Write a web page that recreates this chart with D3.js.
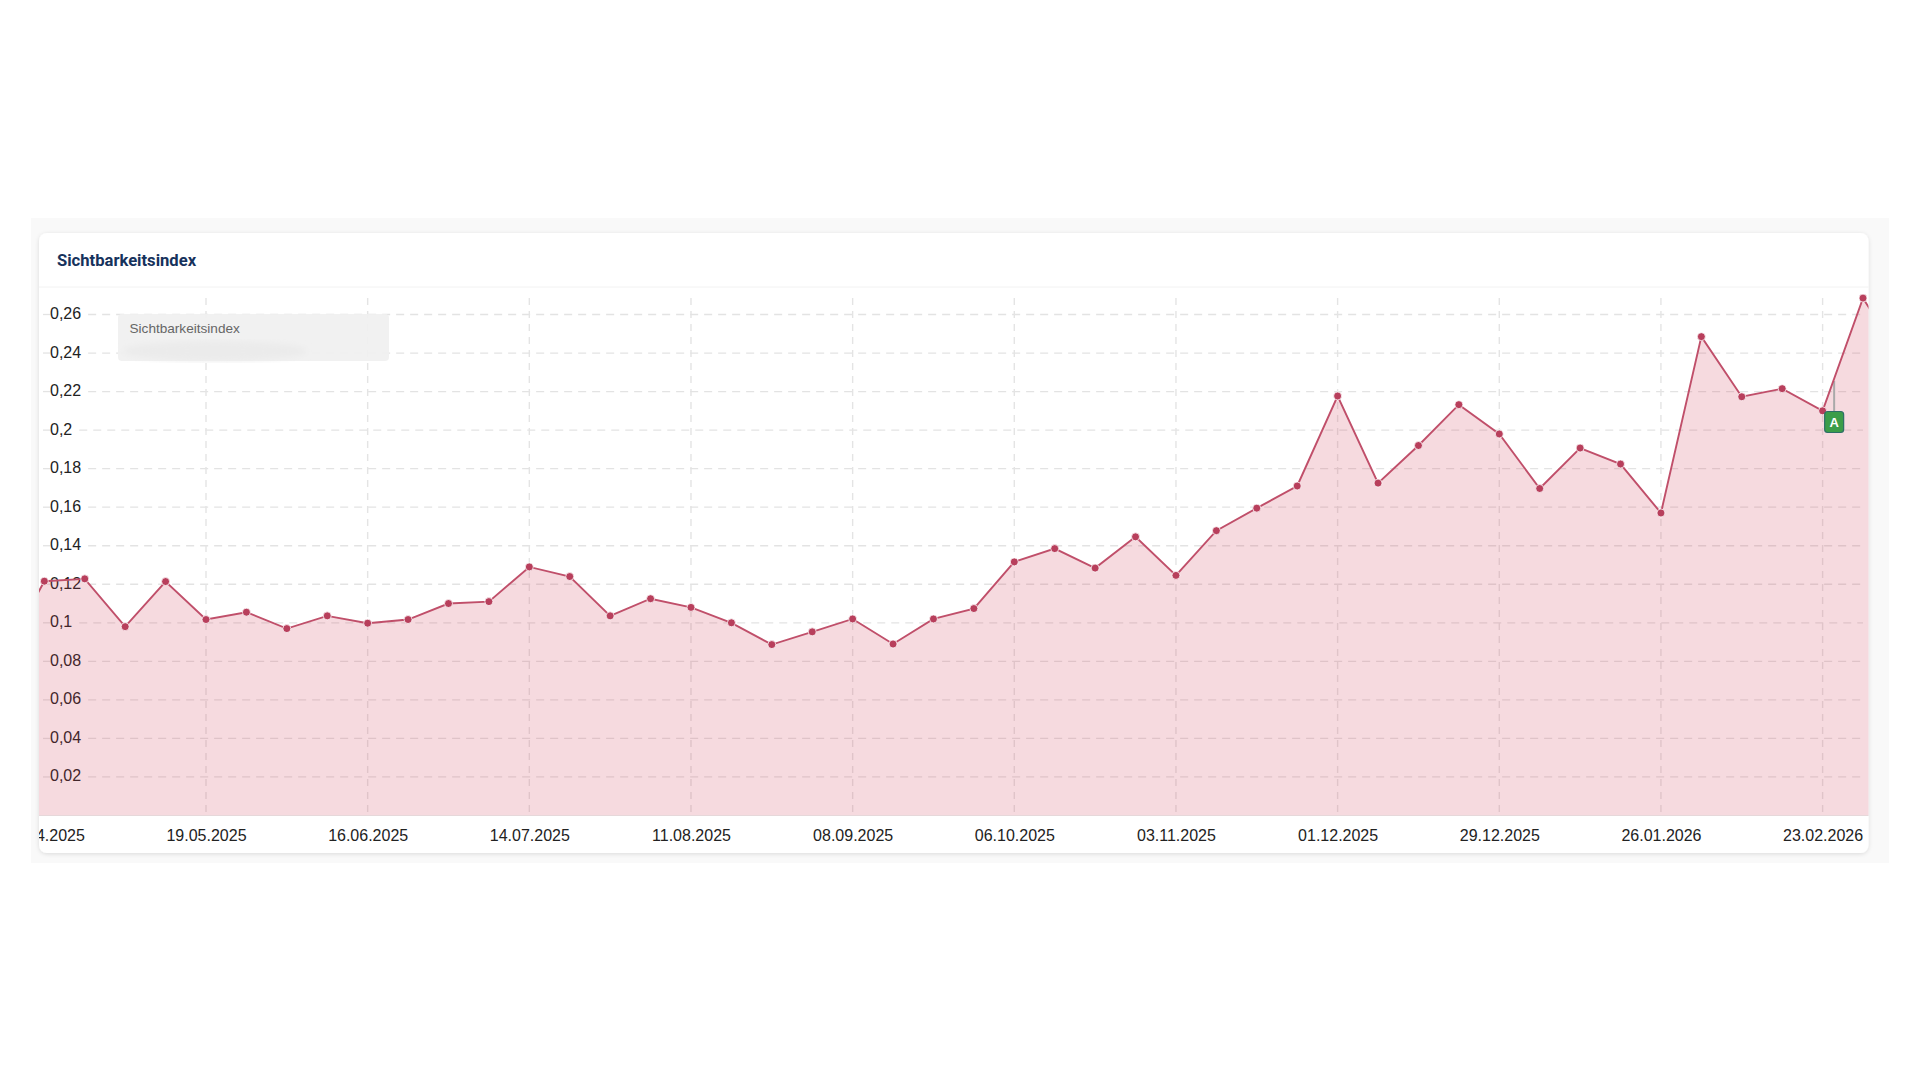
<!DOCTYPE html>
<html><head><meta charset="utf-8">
<script src="https://cdn.jsdelivr.net/npm/d3@7"></script>
<style>html,body{margin:0;padding:0;background:#fff}svg{display:block}text{font-family:"Liberation Sans",Arial,sans-serif}</style>
</head><body><svg id="c" width="1920" height="1080"></svg>
<script>
const chartTitle = "Sichtbarkeitsindex";
const seriesName = "Sichtbarkeitsindex";
const dates = ["2025-04-14","2025-04-21","2025-04-28","2025-05-05","2025-05-12","2025-05-19","2025-05-26","2025-06-02","2025-06-09","2025-06-16","2025-06-23","2025-06-30","2025-07-07","2025-07-14","2025-07-21","2025-07-28","2025-08-04","2025-08-11","2025-08-18","2025-08-25","2025-09-01","2025-09-08","2025-09-15","2025-09-22","2025-09-29","2025-10-06","2025-10-13","2025-10-20","2025-10-27","2025-11-03","2025-11-10","2025-11-17","2025-11-24","2025-12-01","2025-12-08","2025-12-15","2025-12-22","2025-12-29","2026-01-05","2026-01-12","2026-01-19","2026-01-26","2026-02-02","2026-02-09","2026-02-16","2026-02-23","2026-03-02","2026-03-09"];
const values = [0.083,0.1216,0.1228,0.098,0.1214,0.1017,0.1055,0.097,0.1036,0.0998,0.1017,0.110,0.111,0.129,0.124,0.1036,0.1125,0.108,0.100,0.0887,0.0953,0.102,0.089,0.102,0.1074,0.1316,0.1385,0.1284,0.1446,0.1246,0.1478,0.1595,0.171,0.2177,0.1725,0.192,0.2132,0.198,0.1697,0.1907,0.1824,0.157,0.2485,0.2173,0.2215,0.21,0.2685,0.235];
const xTickDates = ["2025-04-21","2025-05-19","2025-06-16","2025-07-14","2025-08-11","2025-09-08","2025-10-06","2025-11-03","2025-12-01","2025-12-29","2026-01-26","2026-02-23"];
const yTicks = [0.02,0.04,0.06,0.08,0.1,0.12,0.14,0.16,0.18,0.2,0.22,0.24,0.26];
const flagDate = "2026-02-25", flagValue = 0.2255, flagLabel = "A";

const parse = d3.utcParse("%Y-%m-%d"), fmtDate = d3.utcFormat("%d.%m.%Y");
const pts = dates.map((d,i)=>({d:parse(d),v:values[i]})).filter(p=>p.v!==undefined);
const x = d3.scaleUtc().domain([parse("2025-05-19"),parse("2026-02-23")]).range([206,1822.6]);
const y = d3.scaleLinear().domain([0,0.26]).range([815.5,314.5]);
const svg = d3.select("#c");
const defs = svg.append("defs");
defs.append("clipPath").attr("id","plot").append("rect").attr("x",39).attr("y",240).attr("width",1829.5).attr("height",575.5);
defs.append("clipPath").attr("id","xclip").append("rect").attr("x",39).attr("y",815).attr("width",1829.5).attr("height",40);
const sh = defs.append("filter").attr("id","sh").attr("x","-2%").attr("y","-5%").attr("width","104%").attr("height","110%");
sh.append("feDropShadow").attr("dx",0).attr("dy",1).attr("stdDeviation",2).attr("flood-color","#000").attr("flood-opacity",.12);
defs.append("filter").attr("id","blur").append("feGaussianBlur").attr("stdDeviation",3);

svg.append("rect").attr("x",31).attr("y",218).attr("width",1858).attr("height",645).attr("fill","#f9f9f9");
svg.append("rect").attr("x",39).attr("y",233).attr("width",1829.5).attr("height",620).attr("rx",8).attr("fill","#fff").attr("filter","url(#sh)");
svg.append("line").attr("x1",39).attr("x2",1868.5).attr("y1",287).attr("y2",287).attr("stroke","#f2f2f2");
svg.append("text").attr("x",57).attr("y",266).attr("fill","#16325c").style("font-family","Roboto").style("font-weight",700).style("font-size","16.6px").text(chartTitle);

const yAxis = d3.axisLeft(y).tickValues(yTicks).tickSize(0).tickFormat(v=>String(v).replace(".",","));
const yG = svg.append("g").attr("transform","translate(50,0)");
const gridG = svg.append("g");
yG.call(yAxis); yG.select(".domain").remove();
yG.selectAll("text").attr("x",0).attr("dy",null).attr("y",4).attr("text-anchor","start").attr("fill","#222").style("font-size","16px").style("font-family","'Liberation Sans'");
const widths = new Map(); yG.selectAll(".tick").each(function(v){widths.set(v,d3.select(this).select("text").node().getComputedTextLength());});

gridG.selectAll(".hl").data(yTicks).join("line").attr("class","hl").attr("x1",43).attr("x2",50).attr("y1",y).attr("y2",y);
gridG.selectAll(".hr").data(yTicks).join("line").attr("class","hr").attr("x1",v=>50+widths.get(v)+7).attr("x2",1863).attr("y1",y).attr("y2",y);
gridG.selectAll(".v").data(xTickDates.slice(1)).join("line").attr("class","v").attr("x1",d=>x(parse(d))).attr("x2",d=>x(parse(d))).attr("y1",298).attr("y2",815.5);
gridG.selectAll("line").attr("stroke","#e3e3e3").attr("stroke-width",1.3).attr("stroke-dasharray","8 6");
gridG.selectAll(".v").attr("stroke","#e4e4e4").attr("stroke-width",1.4).attr("stroke-dasharray","7 6");

const tip = svg.append("g");
tip.append("rect").attr("x",118).attr("y",314).attr("width",271).attr("height",47).attr("rx",4).attr("fill","#f0f0f0").attr("fill-opacity",.92);
tip.append("ellipse").attr("cx",215).attr("cy",351).attr("rx",92).attr("ry",10).attr("fill","#ebebeb").attr("filter","url(#blur)");
tip.append("text").attr("x",129.5).attr("y",333).attr("fill","#666").style("font-size","13.6px").text(seriesName);

const plot = svg.append("g").attr("clip-path","url(#plot)");
plot.append("path").datum(pts).attr("fill","rgba(205,60,85,0.19)").attr("d",d3.area().x(p=>x(p.d)).y0(y(0)).y1(p=>y(p.v)));
plot.append("line").attr("x1",x(parse(flagDate))).attr("x2",x(parse(flagDate))).attr("y1",y(flagValue)).attr("y2",411).attr("stroke","#a9a9a9").attr("stroke-width",2);
plot.append("path").datum(pts).attr("fill","none").attr("stroke","#c04f6a").attr("stroke-width",1.9).attr("d",d3.line().x(p=>x(p.d)).y(p=>y(p.v)));
plot.selectAll("circle").data(pts).join("circle").attr("cx",p=>x(p.d)).attr("cy",p=>y(p.v)).attr("r",4).attr("fill","#b83f5c").attr("stroke","#fff").attr("stroke-opacity",.75).attr("stroke-width",1);

const fx = x(parse(flagDate));
svg.append("rect").attr("x",fx-9.5).attr("y",411.5).attr("width",19).attr("height",21).attr("rx",3).attr("fill","#3b9d49").attr("stroke","#2c6f66").attr("stroke-width",1.2);
svg.append("text").attr("x",fx).attr("y",426.5).attr("text-anchor","middle").attr("fill","#fff").style("font-size","13px").style("font-weight",700).text(flagLabel);

svg.append("line").attr("x1",39).attr("x2",1868.5).attr("y1",815.5).attr("y2",815.5).attr("stroke","#e6d8da");
const xG = svg.append("g").attr("clip-path","url(#xclip)").append("g").attr("transform","translate(0,815.5)");
xG.call(d3.axisBottom(x).tickValues(xTickDates.map(parse)).tickSize(0).tickFormat(fmtDate));
xG.select(".domain").remove();
xG.selectAll("text").attr("y",25.3).attr("dy",null).attr("fill","#222").style("font-size","16px").style("font-family","'Liberation Sans'");
</script></body></html>
